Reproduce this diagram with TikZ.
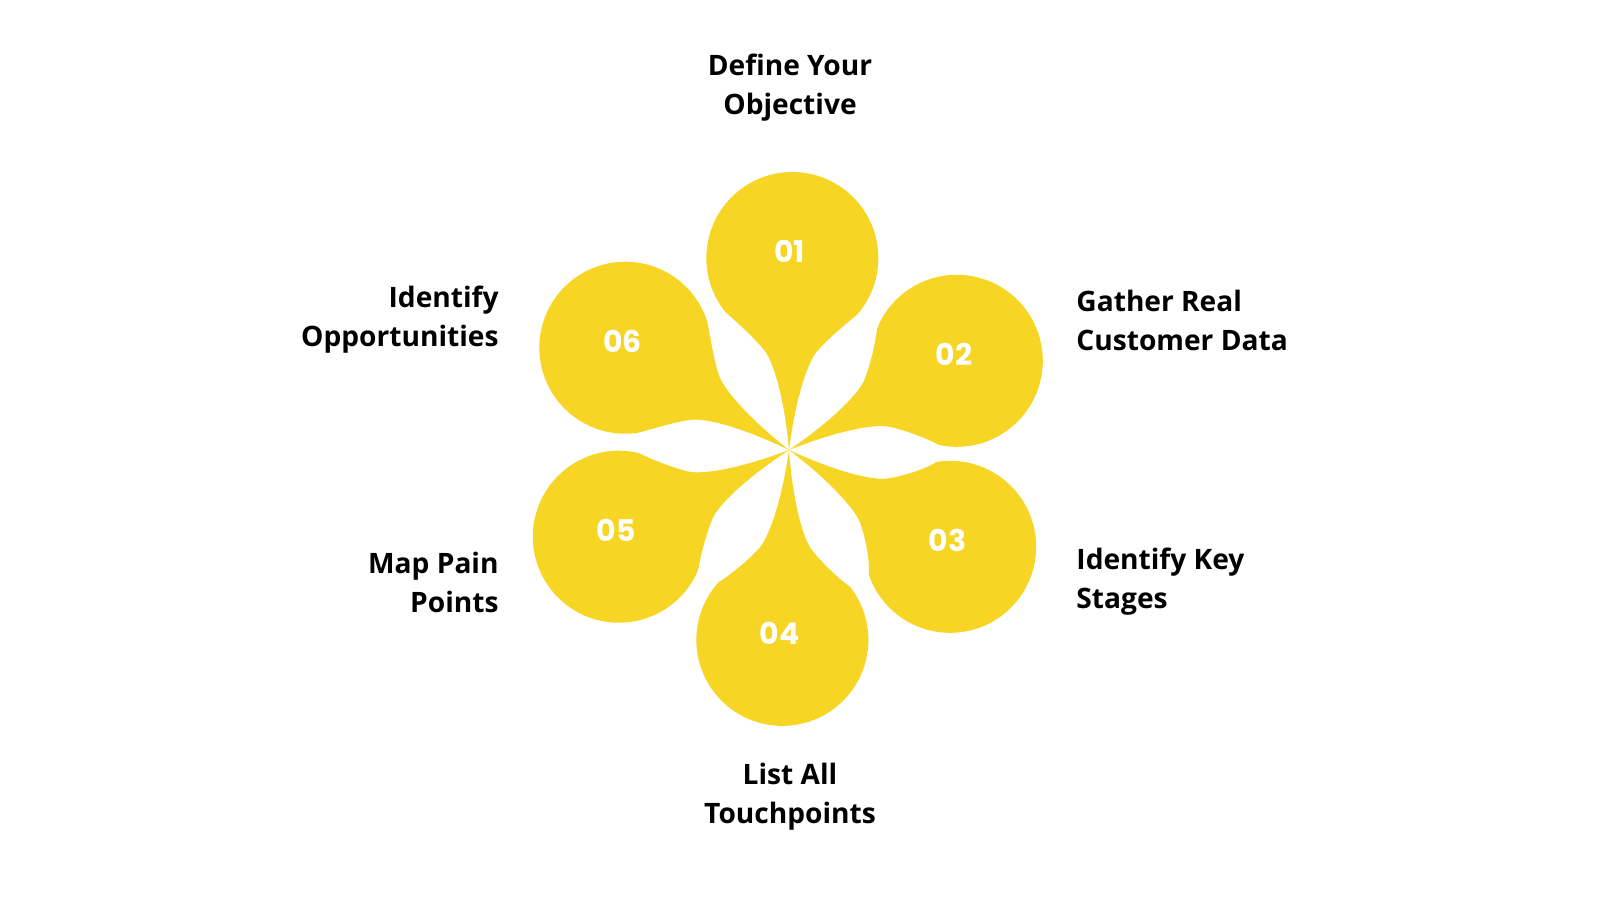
\documentclass[tikz,border=0pt]{standalone}
\usepackage{fontspec}
\setmainfont{Open Sans}
\newfontfamily\numfont{Poppins}
\definecolor{petal}{HTML}{F7D524}
\begin{document}
\begin{tikzpicture}[x=0.01cm,y=0.01cm,
  lbl/.style={font=\fontsize{8}{11.1}\selectfont\bfseries, text=black},
  num/.style={font=\numfont\fontsize{8.5}{10}\selectfont\bfseries, text=white}]
\useasboundingbox (0,0) rectangle (1600,900);
\coordinate (C) at (789,450);
\def\R{86}
\foreach \ang/\dd/\n in {89/192/01, 28/190/02, -31/188/03, -92/190/04, -153/191/05, 148/193/06}{
  \begin{scope}[shift={(C)}, rotate=\ang-90]
    \fill[petal] (0,0) .. controls (-6,55) and (-18,90) .. (-27,100)
      .. controls (-40,115) and (-56,128) .. ({-\R*sin(50)},{\dd-\R*cos(50)})
      arc[start angle=220, end angle=-40, radius=\R]
      .. controls (56,128) and (40,115) .. (27,100)
      .. controls (18,90) and (6,55) .. (0,0);
    \coordinate (c\n) at (0,\dd);
  \end{scope}
  \node[num] (p\n) at ([xshift=-0.8pt, yshift=1.8pt]c\n) {\n};
}
\node[lbl, align=center] (t1) at (790,812) {Define Your\\Objective};
\node[lbl, align=left, anchor=west] (t2) at (1064,580) {Gather Real\\Customer Data};
\node[lbl, align=left, anchor=west] (t3) at (1064,318) {Identify Key\\Stages};
\node[lbl, align=center] (t4) at (790,103) {List All\\Touchpoints};
\node[lbl, align=right, anchor=east] (t5) at (511,318) {Map Pain\\Points};
\node[lbl, align=right, anchor=east] (t6) at (511,580) {Identify\\Opportunities};
\end{tikzpicture}
\end{document}
